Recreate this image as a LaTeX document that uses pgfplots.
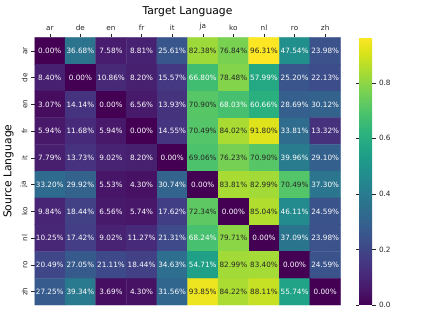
\documentclass[border=0pt]{standalone}
\usepackage{fontspec}
\setmainfont{DejaVu Sans}
\usepackage{pgfplots}
\usepackage{pgfplotstable}
\pgfplotsset{compat=1.18}
\pgfplotstableread{
x y v
0 0 0.00
1 0 36.68
2 0 7.58
3 0 8.81
4 0 25.61
5 0 82.38
6 0 76.84
7 0 96.31
8 0 47.54
9 0 23.98
0 1 8.40
1 1 0.00
2 1 10.86
3 1 8.20
4 1 15.57
5 1 66.80
6 1 78.48
7 1 57.99
8 1 25.20
9 1 22.13
0 2 3.07
1 2 14.14
2 2 0.00
3 2 6.56
4 2 13.93
5 2 70.90
6 2 68.03
7 2 60.66
8 2 28.69
9 2 30.12
0 3 5.94
1 3 11.68
2 3 5.94
3 3 0.00
4 3 14.55
5 3 70.49
6 3 84.02
7 3 91.80
8 3 33.81
9 3 13.32
0 4 7.79
1 4 13.73
2 4 9.02
3 4 8.20
4 4 0.00
5 4 69.06
6 4 76.23
7 4 70.90
8 4 39.96
9 4 29.10
0 5 33.20
1 5 29.92
2 5 5.53
3 5 4.30
4 5 30.74
5 5 0.00
6 5 83.81
7 5 82.99
8 5 70.49
9 5 37.30
0 6 9.84
1 6 18.44
2 6 6.56
3 6 5.74
4 6 17.62
5 6 72.34
6 6 0.00
7 6 85.04
8 6 46.11
9 6 24.59
0 7 10.25
1 7 17.42
2 7 9.02
3 7 11.27
4 7 21.31
5 7 68.24
6 7 79.71
7 7 0.00
8 7 37.09
9 7 23.98
0 8 20.49
1 8 27.05
2 8 21.11
3 8 18.44
4 8 34.63
5 8 54.71
6 8 82.99
7 8 83.40
8 8 0.00
9 8 24.59
0 9 27.25
1 9 39.34
2 9 3.69
3 9 4.30
4 9 31.56
5 9 93.85
6 9 84.22
7 9 88.11
8 9 55.74
9 9 0.00
}\data
\begin{document}
\begin{tikzpicture}
\useasboundingbox (-34.5bp,-13bp) rectangle (389.5bp,305bp);
\begin{axis}[
  name=ax, at={(0,0)}, anchor=south west,
  scale only axis, width=306bp, height=267.5bp,
  xmin=-0.5, xmax=9.5, ymin=-0.5, ymax=9.5,
  y dir=reverse,
  axis line style={draw=none},
  xtick={0,...,9}, ytick={0,...,9},
  xticklabels={ar,de,en,fr,it,ja,ko,nl,ro,zh},
  yticklabels={ar,de,en,fr,it,ja,ko,nl,ro,zh},
  xtick pos=right, xticklabel pos=right, ytick pos=left,
  tick align=outside,
  major tick length=3.5bp,
  tick style={black!85, line width=0.5bp},
  yticklabel style={rotate=90, anchor=south},
  ticklabel style={font=\fontsize{7.3}{8}\selectfont, text=black!85},
  xlabel={Target Language}, ylabel={Source Language},
  label style={font=\fontsize{10.8}{12}\selectfont},
  colormap/viridis,
  point meta min=0, point meta max=96.31,
  colorbar,
  colorbar shift/.style={xshift=18.5bp},
  colorbar style={
    at={(parent axis.north east)}, anchor=north west,
    width=13bp,
    ytick={0,20,40,60,80},
    yticklabels={0.0,0.2,0.4,0.6,0.8},
    axis line style={draw=none},
    tick align=outside, major tick length=3.5bp,
    tick style={black!85, line width=0.5bp},
    yticklabel style={font=\fontsize{7.3}{8}\selectfont, text=black!85},
  },
]
\addplot[matrix plot*, mesh/cols=10, point meta=explicit] table[x=x, y=y, meta=v] {\data};
\addplot[draw=none, mark=none,
  x filter/.expression={\thisrow{v}>68.6 ? nan : x},
  point meta=explicit symbolic,
  nodes near coords={\pgfplotspointmeta\%},
  nodes near coords align={center},
  every node near coord/.append style={font=\fontsize{7.3}{8}\selectfont, anchor=center, inner sep=0pt, text=white},
] table[x=x, y=y, meta=v] {\data};
\addplot[draw=none, mark=none,
  x filter/.expression={\thisrow{v}>68.6 ? x : nan},
  point meta=explicit symbolic,
  nodes near coords={\pgfplotspointmeta\%},
  nodes near coords align={center},
  every node near coord/.append style={font=\fontsize{7.3}{8}\selectfont, anchor=center, inner sep=0pt, text=black!85},
] table[x=x, y=y, meta=v] {\data};
\end{axis}
\end{tikzpicture}
\end{document}
